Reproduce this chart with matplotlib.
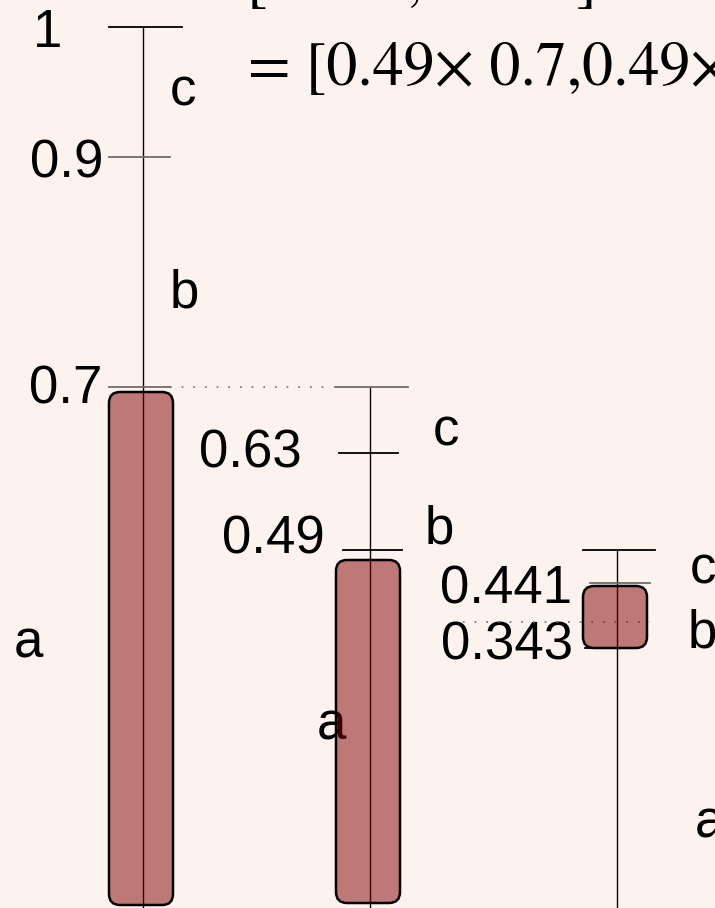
import numpy as np
import matplotlib
matplotlib.use("Agg")
import matplotlib.pyplot as plt
from matplotlib.patches import FancyBboxPatch

# ---------------- data ----------------
stages = ["stage1", "stage2", "stage3"]
tick_values = [[1, 0.9, 0.7], [0.7, 0.63, 0.49], [0.49, 0.441, 0.343]]
tick_labels = [["1", "0.9", "0.7"], ["", "0.63", "0.49"], ["", "0.441", "0.343"]]
symbols = ["a", "b", "c"]
selected_low = [0.0, 0.0, 0.343]
selected_high = [0.7, 0.49, 0.441]
formula_line1 = "[0.343, 0.441]"
formula_line2 = "= [0.49\u00d7 0.7,0.49\u00d7 0.9]"

# ---------------- layout (pixel canvas) ----------------
W, H = 715, 908
axis_x = [143, 370, 617]
# schematic (non-linear) positions of the values on each axis
anchor_vals = [[1, 0.9, 0.7, 0.0], [0.7, 0.63, 0.49, 0.0], [0.49, 0.441, 0.343, 0.0]]
anchor_pix = [[27, 157, 387, 905], [387, 453, 550, 903], [550, 583, 648, 1200]]
bar_top_inset = [5, 10, 3]
bar_halfw = 32
tick_ext = [[(34, 39), (34, 27), (34, 27)],
            [(35, 38), (31, 28), (27, 32)],
            [(34, 38), (27, 33), (32, 0)]]
tick_col = [["black", "#6e6e6e", "#6e6e6e"],
            ["#6e6e6e", "black", "black"],
            ["black", "#6e6e6e", "black"]]
val_lab_xy = [[(62, 47), (103, 178), (102, 403)],
              [None, (302, 468), (325, 553)],
              [None, (572, 603), (573, 660)]]
sym_xy = [[(14, 657), (170, 307), (170, 105)],
          [(317, 740), (425, 543), (433, 445)],
          [(695, 838), (688, 648), (690, 584)]]
dotted = [(170, 330, 387), (463, 650, 622)]

bg = "#fdf3ee"
fs = 38
fs_formula = 44.5

fig = plt.figure(figsize=(W / 100, H / 100), dpi=100, facecolor=bg)
ax = fig.add_axes([0, 0, 1, 1])
ax.set_facecolor(bg)
ax.set_xlim(0, W)
ax.set_ylim(H, 0)
ax.axis("off")


def ypos(i, v):
    av = anchor_vals[i][::-1]
    ap = anchor_pix[i][::-1]
    return float(np.interp(v, av, ap))


for i, st in enumerate(stages):
    x0 = axis_x[i]
    # vertical axis line
    ax.plot([x0, x0], [ypos(i, tick_values[i][0]), H], color="black", lw=1.0, zorder=2)
    # ticks
    for j, v in enumerate(tick_values[i]):
        y = ypos(i, v)
        l, r = tick_ext[i][j]
        ax.plot([x0 - l, x0 + r], [y, y], color=tick_col[i][j], lw=1.3, zorder=2)
        if val_lab_xy[i][j] is not None:
            tx, ty = val_lab_xy[i][j]
            ax.text(tx, ty, tick_labels[i][j], ha="right", va="baseline",
                    fontsize=fs, family="Liberation Sans", color="black", zorder=1)
    # symbol labels
    for k, s in enumerate(symbols):
        sx, sy = sym_xy[i][k]
        ax.text(sx, sy, s, ha="left", va="baseline", fontsize=fs,
                family="Liberation Sans", color="black", zorder=1)
    # selected interval bar
    ytop = ypos(i, selected_high[i]) + bar_top_inset[i]
    ybot = min(ypos(i, selected_low[i]), 905)
    bar = FancyBboxPatch((x0 - bar_halfw - 2, ytop), 2 * bar_halfw, ybot - ytop,
                         boxstyle="round,pad=0,rounding_size=11",
                         facecolor=(0.5, 0.0, 0.0, 0.5), edgecolor="black",
                         lw=1.8, zorder=3)
    ax.add_patch(bar)

for (xa, xb, y) in dotted:
    ax.plot([xa, xb], [y, y], color="#6e6e6e", lw=1.2, ls=(0, (1, 6)), zorder=2)

ax.text(247, -1, formula_line1, ha="left", va="baseline", fontsize=fs_formula,
        family="STIXGeneral", color="black")
ax.text(248, 85, formula_line2, ha="left", va="baseline", fontsize=fs_formula,
        family="STIXGeneral", color="black")

fig.savefig("out.png", dpi=100, facecolor=bg)
